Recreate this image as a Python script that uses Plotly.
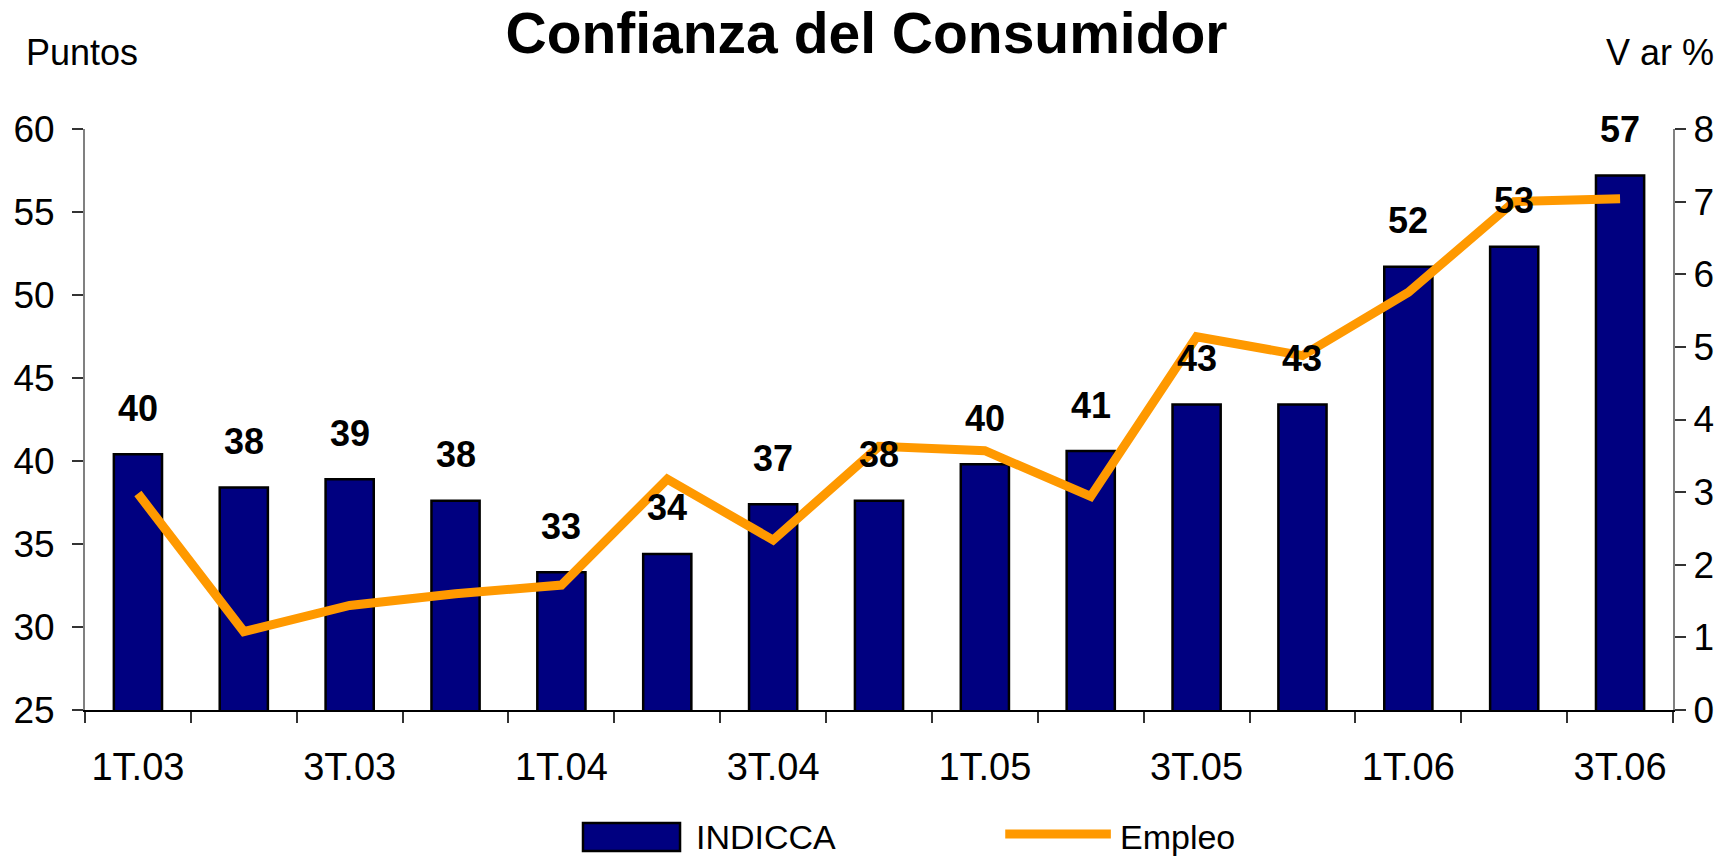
import plotly.graph_objects as go

# quarterly data
quarters = ["1T.03", "2T.03", "3T.03", "4T.03", "1T.04", "2T.04", "3T.04", "4T.04",
            "1T.05", "2T.05", "3T.05", "4T.05", "1T.06", "2T.06", "3T.06"]
tick_labels = ["1T.03", "", "3T.03", "", "1T.04", "", "3T.04", "",
               "1T.05", "", "3T.05", "", "1T.06", "", "3T.06"]
indicca = [40.4, 38.4, 38.9, 37.6, 33.3, 34.4, 37.4, 37.6,
           39.8, 40.6, 43.4, 43.4, 51.7, 52.9, 57.2]
empleo = [2.98, 1.08, 1.44, 1.60, 1.72, 3.18, 2.34, 3.63,
          3.57, 2.94, 5.14, 4.88, 5.75, 7.00, 7.04]

FONT = "Liberation Sans, Arial, sans-serif"
NAVY = "#000080"
ORANGE = "#FF9900"
TICK = "#333333"

fig = go.Figure()

fig.add_trace(
    go.Bar(
        x=quarters,
        y=indicca,
        name="INDICCA",
        width=0.455,
        marker=dict(color=NAVY, line=dict(color="black", width=2.5)),
        yaxis="y",
    )
)
fig.add_trace(
    go.Scatter(
        x=quarters,
        y=empleo,
        name="Empleo",
        mode="lines",
        line=dict(color=ORANGE, width=9),
        yaxis="y2",
    )
)

# value labels over the bars
for q, v in zip(quarters, indicca):
    fig.add_annotation(
        x=q, y=v, xref="x", yref="y", text=f"{v:.0f}", showarrow=False,
        yanchor="middle", yshift=46,
        font=dict(family=FONT, size=36, color="black", weight="bold"),
    )

# axis captions
fig.add_annotation(
    x=-0.0384, y=1.1325, xref="paper", yref="paper", text="Puntos",
    showarrow=False, xanchor="left", yanchor="middle",
    font=dict(family=FONT, size=36, color="black"),
)
fig.add_annotation(
    x=0.9918, y=1.1325, xref="paper", yref="paper", text="V ar %",
    showarrow=False, xanchor="center", yanchor="middle",
    font=dict(family=FONT, size=36, color="black"),
)

# hand drawn legend with the large swatches of the original
fig.add_shape(type="rect", xref="paper", yref="paper",
              x0=0.3136, x1=0.3747, y0=-0.2427, y1=-0.1945,
              fillcolor=NAVY, line=dict(color="black", width=2.5))
fig.add_annotation(
    x=0.3835, y=-0.2186, xref="paper", yref="paper", text="INDICCA",
    showarrow=False, xanchor="left", yanchor="middle",
    font=dict(family=FONT, size=34, color="black"),
)
fig.add_shape(type="line", xref="paper", yref="paper",
              x0=0.5795, x1=0.646, y0=-0.2134, y1=-0.2134,
              line=dict(color=ORANGE, width=9))
fig.add_annotation(
    x=0.6505, y=-0.2186, xref="paper", yref="paper", text="Empleo",
    showarrow=False, xanchor="left", yanchor="middle",
    font=dict(family=FONT, size=34, color="black"),
)

boundaries = [i - 0.5 for i in range(len(quarters) + 1)]

fig.update_layout(
    width=1733,
    height=856,
    margin=dict(l=85, r=60, t=129, b=146),
    paper_bgcolor="white",
    plot_bgcolor="white",
    showlegend=False,
    title=dict(
        text="<b>Confianza del Consumidor</b>",
        x=0.5, xanchor="center", y=1 - 33 / 856, yanchor="middle",
        yref="container",
        font=dict(family=FONT, size=57, color="black"),
    ),
    xaxis=dict(
        type="category",
        categoryorder="array",
        categoryarray=quarters,
        tickmode="array",
        tickvals=quarters,
        ticktext=tick_labels,
        tickson="boundaries",
        ticks="outside",
        ticklen=11,
        tickwidth=1.5,
        tickcolor=TICK,
        showline=True,
        linecolor="black",
        linewidth=2,
        showgrid=False,
        tickfont=dict(family=FONT, size=38, color="black"),
        ticklabelstandoff=22,
    ),
    xaxis2=dict(
        overlaying="x",
        anchor="y",
        range=[-0.5, len(quarters) - 0.5],
        tickmode="array",
        tickvals=boundaries,
        ticks="inside",
        ticklen=11,
        tickwidth=1.5,
        tickcolor=TICK,
        showticklabels=False,
        showline=False,
        showgrid=False,
        zeroline=False,
    ),
    yaxis=dict(
        range=[25, 60],
        dtick=5,
        ticks="outside",
        ticklen=11,
        tickwidth=1.5,
        tickcolor=TICK,
        showline=True,
        linecolor="#808080",
        linewidth=2,
        showgrid=False,
        zeroline=False,
        ticklabelstandoff=10,
        tickfont=dict(family=FONT, size=37, color="black"),
    ),
    yaxis2=dict(
        range=[0, 8],
        dtick=1,
        overlaying="y",
        side="right",
        ticks="outside",
        ticklen=11,
        tickwidth=1.5,
        tickcolor=TICK,
        showline=True,
        linecolor="#808080",
        linewidth=2,
        showgrid=False,
        zeroline=False,
        tickfont=dict(family=FONT, size=37, color="black"),
    ),
    yaxis3=dict(
        range=[25, 60], dtick=5, overlaying="y", side="left",
        ticks="inside", ticklen=11, tickwidth=1.5, tickcolor=TICK,
        showticklabels=False, showline=False, showgrid=False, zeroline=False,
    ),
    yaxis4=dict(
        range=[0, 8], dtick=1, overlaying="y", side="right",
        ticks="inside", ticklen=11, tickwidth=1.5, tickcolor=TICK,
        showticklabels=False, showline=False, showgrid=False, zeroline=False,
    ),
)

# drop the default page margin so the figure fills the window exactly
fig.write_html(
    "out.html",
    config={"displayModeBar": False},
    post_script="document.body.style.margin = '0';",
)
